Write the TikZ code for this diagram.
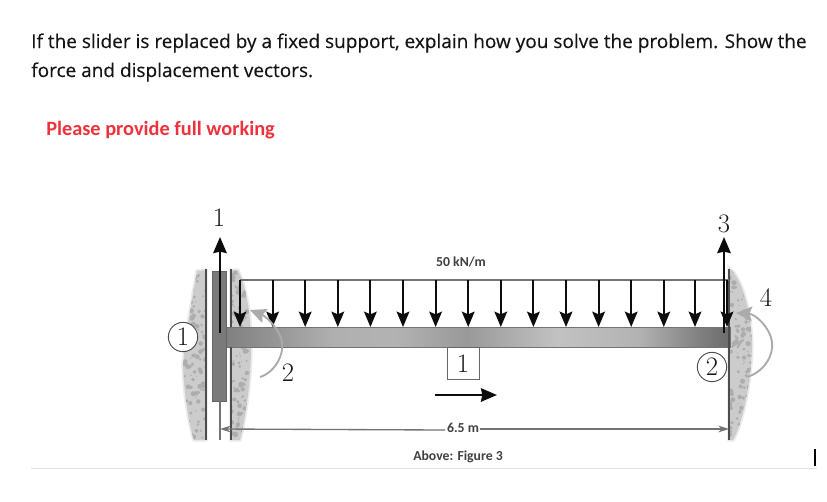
\documentclass[tikz,border=0pt]{standalone}
\usepackage{fontspec}
\newfontfamily\prosefont[FakeBold=0.25]{Open Sans}
\newfontfamily\labelfont{Carlito}
\usetikzlibrary{arrows.meta}
\pgfdeclarehorizontalshading{beamshade}{100bp}{
  color(0bp)=(black!58); color(25bp)=(black!50); color(27bp)=(black!47); color(36bp)=(black!31); color(42bp)=(black!30);
  color(49bp)=(black!40); color(58bp)=(black!24); color(66bp)=(black!30);
  color(72bp)=(black!50); color(75bp)=(black!58); color(100bp)=(black!62)}
\tikzset{
  x=0.75pt,y=-0.75pt,
  prose/.style={anchor=base west,inner sep=0,font=\prosefont\fontsize{14.25pt}{17pt}\selectfont,text=black!92},
  captext/.style={inner sep=0,font=\labelfont\bfseries\fontsize{10.3pt}{12pt}\selectfont,text=black!75},
  num/.style={inner sep=0,font=\fontsize{20pt}{22pt}\selectfont,text=black!90},
  circlab/.style={circle,draw=black!70,line width=0.7pt,minimum size=22pt,inner sep=0,font=\fontsize{20pt}{22pt}\selectfont,fill=white,text=black!90},
  wall/.style={draw=black!70,line width=1.5pt},
  thinline/.style={draw=black!55,line width=0.9pt},
  loadarrow/.style={draw=black!95,line width=1.6pt,-{Stealth[length=11.5pt,width=9.5pt,inset=2pt]}},
  bigarrow/.style={draw=black!95,line width=1.8pt,-{Stealth[length=12pt,width=10pt,inset=1pt]}},
  moment/.style={draw=black!33,line width=1.4pt,-{Stealth[length=12pt,width=11pt,inset=2pt]}},
  dimen/.style={draw=black!55,line width=1pt,-{Stealth[length=8pt,width=5pt]}},
  softedge/.style={fill=black!12,draw=black!8,line width=2.5pt},
}
\newcommand{\speckles}[4]{%
  \foreach \k in {1,...,#4}{
    \pgfmathsetmacro{\px}{#1+rnd*#3}
    \pgfmathsetmacro{\py}{#2+rnd*172}
    \pgfmathsetmacro{\pr}{0.6+rnd*2.0}
    \fill[black!32] (\px,\py) circle[radius=\pr];
  }}
\begin{document}
\begin{tikzpicture}
\useasboundingbox (0,0) rectangle (827,501);
\fill[white] (0,0) rectangle (827,501);
\node[prose] (line1) at (31,48) {If the slider is replaced by a fixed support, explain how you solve the problem. Show the};
\node[prose] (line2) at (31,77) {force and displacement vectors.};
\node[anchor=base west,inner sep=0,font=\labelfont\bfseries\fontsize{15.25pt}{17pt}\selectfont,text={rgb,255:red,238;green,50;blue,60}] (please) at (46,135) {Please provide full working};

% rock
\pgfmathsetseed{42}
\def\rockL{(206,270) -- (197,271) .. controls (192,300) and (186,330) .. (183,365) .. controls (184,395) and (189,425) .. (194,440) -- (206,440) -- cycle}
\def\rockM{(231,270) -- (238,270) .. controls (245,285) and (251,310) .. (251,345) .. controls (251,385) and (245,420) .. (240,440) -- (231,440) -- cycle}
\def\rockR{(729,268) .. controls (742,278) and (751,310) .. (752,345) .. controls (751,385) and (742,425) .. (733,440) -- (729,440) -- cycle}
\path[softedge] \rockL;
\path[softedge] \rockM;
\path[softedge] \rockR;
\begin{scope}
  \expandafter\clip\rockL;
  \fill[black!20] (170,260) rectangle (206,445);
  \speckles{180}{268}{26}{150}
\end{scope}
\begin{scope}
  \expandafter\clip\rockM;
  \fill[black!20] (231,260) rectangle (256,445);
  \speckles{231}{268}{22}{130}
\end{scope}
\begin{scope}
  \expandafter\clip\rockR;
  \fill[black!20] (729,260) rectangle (756,445);
  \speckles{729}{268}{24}{140}
\end{scope}

% beam
\node[shade,shading=beamshade,draw=black!55,line width=0.7pt,minimum width=381pt,minimum height=15pt,inner sep=0,anchor=north west] (beam) at (222,327) {};
\fill[black!52,draw=black!60,line width=0.6pt] (212,271) rectangle (226,401);

% walls
\coordinate (w1a) at (206,269); \coordinate (w1b) at (206,440);
\coordinate (w2a) at (231,269); \coordinate (w2b) at (231,327);
\coordinate (w2c) at (231,347); \coordinate (w2d) at (231,440);
\coordinate (w3a) at (729,269); \coordinate (w3b) at (729,440);
\coordinate (thinA) at (220,401); \coordinate (thinB) at (220,440);
\draw[wall] (w1a) -- (w1b);
\draw[wall] (w2a) -- (w2b);
\draw[wall] (w2c) -- (w2d);
\draw[wall] (w3a) -- (w3b);
\draw[thinline] (thinA) -- (thinB);

% distributed load
\coordinate (loadL) at (240,280); \coordinate (loadR) at (729,280);
\draw[black!55,line width=1.2pt] (loadL) -- (loadR);
\foreach \i/\x in {a/240,b/272.6,c/305.2,d/337.8,e/370.4,f/403,g/435.6,h/468.2,i/500.8,j/533.4,k/566,l/598.6,m/631.2,n/663.8,o/695,p/727}{
  \coordinate (top\i) at (\x,280);
  \coordinate (bot\i) at (\x,327);
  \draw[loadarrow] (top\i) -- (bot\i);
}

% DOF arrows
\coordinate (a1s) at (220,333); \coordinate (a1e) at (220,237);
\coordinate (a3s) at (724,333); \coordinate (a3e) at (724,237);
\draw[bigarrow] (a1s) -- (a1e);
\draw[bigarrow] (a3s) -- (a3e);
\coordinate (m2s) at (260,377); \coordinate (m2e) at (250,310);
\coordinate (m4s) at (747,377); \coordinate (m4e) at (736,313);
\draw[moment] (m2s) .. controls (276,372) and (286,352) .. (281,338) .. controls (276,325) and (265,316) .. (m2e);
\draw[moment] (m4s) .. controls (764,372) and (774,355) .. (772,342) .. controls (770,327) and (755,314) .. (m4e);

% labels
\node[num] (n1) at (219,218) {1};
\node[num] (n2) at (288,373) {2};
\node[num] (n3) at (724,224) {3};
\node[num] (n4) at (766,298) {4};
\node[circlab] (c1) at (183,337) {1};
\node[circlab] (c2) at (712,367) {2};
\node[draw=black!60,line width=0.7pt,fill=white,minimum size=24pt,inner sep=0,anchor=north,font=\fontsize{20pt}{22pt}\selectfont,text=black!90] (elem) at (463,347) {1};
\coordinate (dirS) at (435,395); \coordinate (dirE) at (497,395);
\draw[bigarrow] (dirS) -- (dirE);

% dimension
\coordinate (dimL) at (220,429); \coordinate (dimR) at (729,429);
\draw[dimen] (445,430) -- (dimL);
\draw[dimen] (480,429) -- (dimR);
\node[captext] (dim) at (463,428) {6.5 m};
\node[captext] (loadcap) at (461,262) {50 kN/m};
\node[captext] (figcap) at (458,457) {Above: Figure 3};

% page furniture
\coordinate (ruleL) at (31,468); \coordinate (ruleR) at (817,468);
\draw[black!12,line width=0.7pt] (ruleL) -- (ruleR);
\coordinate (curA) at (815,449); \coordinate (curB) at (815,466);
\draw[black,line width=0.8pt] (curA) -- (curB);
\end{tikzpicture}
\end{document}
